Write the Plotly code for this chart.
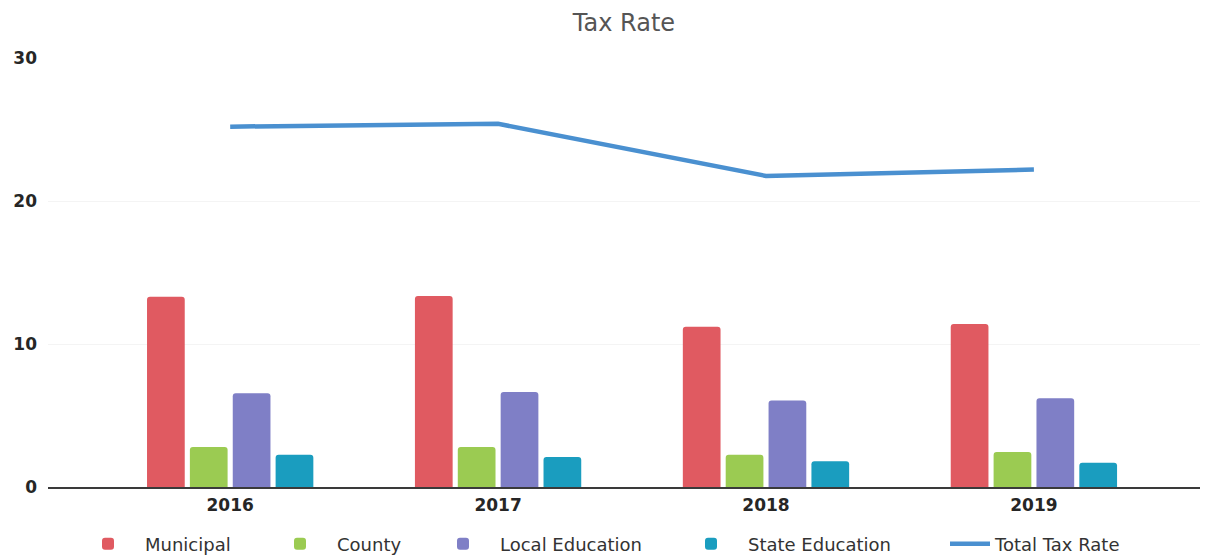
import plotly.graph_objects as go

years = ["2016", "2017", "2018", "2019"]
municipal = [13.3, 13.35, 11.2, 11.4]
county = [2.8, 2.8, 2.25, 2.45]
local_education = [6.55, 6.65, 6.05, 6.2]
state_education = [2.25, 2.1, 1.8, 1.7]
total_tax_rate = [25.2, 25.4, 21.75, 22.2]

x = list(range(len(years)))

# the page body adds an 8px offset, so the figure is 8px smaller each way
W, H = 1204, 550
fig = go.Figure()
series = [
    ("Municipal", municipal, "#E05A61", 145),
    ("County", county, "#9BCB52", 337),
    ("Local Education", local_education, "#7F7FC6", 500),
    ("State Education", state_education, "#1A9DBF", 748),
]
legend_cfg = {}
for i, (name, vals, col, tx) in enumerate(series):
    lid = "legend" if i == 0 else f"legend{i+1}"
    fig.add_trace(go.Bar(x=x, y=vals, name=name, legend=lid,
                         marker=dict(color=col, line=dict(width=0))))
    legend_cfg[lid] = dict(itemwidth=64, x=(tx - 82) / W)
fig.add_trace(go.Scatter(x=x, y=total_tax_rate, name="Total Tax Rate", mode="lines",
                         legend="legend5", line=dict(color="#4A90D0", width=4.5)))
legend_cfg["legend5"] = dict(itemwidth=40, x=(995 - 58) / W)

common = dict(orientation="h", xref="container", yref="container", xanchor="left",
              y=(H - 536) / H, yanchor="middle", bgcolor="rgba(0,0,0,0)",
              font=dict(size=18, color="#333", family="DejaVu Sans"))
layout_legends = {k: dict(common, **v) for k, v in legend_cfg.items()}

tickfont = dict(size=17, color="#262626", family="DejaVu Sans", weight="bold")
fig.update_layout(
    width=W, height=H,
    margin=dict(l=40, r=12, t=50, b=71),
    paper_bgcolor="white", plot_bgcolor="white",
    font=dict(family="DejaVu Sans", color="#333"),
    title=dict(text="Tax Rate", x=0.5, xanchor="center", xref="paper",
               y=(H - 15) / H, yanchor="middle",
               font=dict(size=24, color="#555", family="DejaVu Sans")),
    barmode="group", bargap=0.36, bargroupgap=0.12, barcornerradius=3,
    showlegend=True,
    xaxis=dict(tickmode="array", tickvals=x, ticktext=years, range=[-0.68, 3.62],
               showline=True, linecolor="#3a3a3a", linewidth=2, showgrid=False,
               tickfont=tickfont, ticks="", zeroline=False, ticklabelstandoff=2,
               automargin=False),
    yaxis=dict(range=[0, 30], tickvals=[0, 10, 20, 30], showgrid=True, gridcolor="#f4f4f4",
               tickfont=tickfont, zeroline=False, showline=False, ticks="",
               ticklabelstandoff=10, automargin=False),
    **layout_legends,
)
fig.write_html("out.html")
